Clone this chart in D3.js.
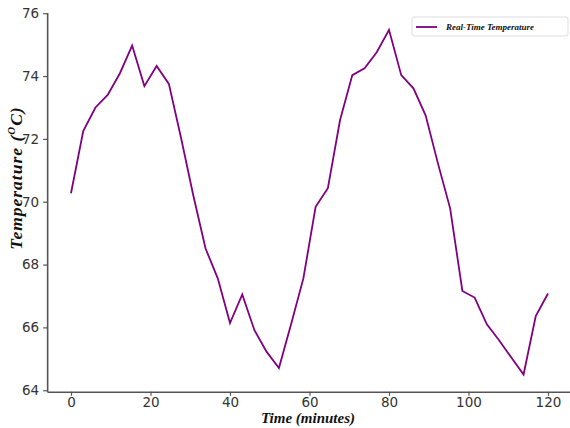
<html lang="en">
<head>
<script src="https://cdnjs.cloudflare.com/ajax/libs/d3/7.7.0/d3.min.js"></script>
<style>
html, body {
  margin: 0;
  padding: 0;
  background: #fff;
}
</style>
</head>
<body>
  <svg id="chart" width="570" height="428"></svg>
</body>
<script>
// time points (minutes) and readings
const times = [0, 3.08, 6.15, 9.23, 12.31, 15.38, 18.46, 21.54, 24.62, 27.69,
  30.77, 33.85, 36.92, 40, 43.08, 46.15, 49.23, 52.31, 55.38, 58.46,
  61.54, 64.62, 67.69, 70.77, 73.85, 76.92, 80, 83.08, 86.15, 89.23,
  92.31, 95.38, 98.46, 101.54, 104.62, 107.69, 110.77, 113.85, 116.92, 120];
const temps = [70.27, 72.25, 73.0, 73.4, 74.09, 74.97, 73.68, 74.32, 73.75, 72.03,
  70.2, 68.51, 67.56, 66.14, 67.05, 65.91, 65.22, 64.71, 66.11, 67.56,
  69.84, 70.43, 72.6, 74.03, 74.25, 74.76, 75.47, 74.03, 73.61, 72.74,
  71.22, 69.79, 67.16, 66.95, 66.1, 65.59, 65.04, 64.5, 66.36, 67.08];
const xTicks = [0, 20, 40, 60, 80, 100, 120];
const yTicks = [64, 66, 68, 70, 72, 74, 76];
const seriesName = 'Real-Time Temperature';

const svg = d3.select('#chart');

const x = d3.scaleLinear().domain([-6, 126]).range([47.15, 571.85]);
const y = d3.scaleLinear().domain([63.95, 76.02]).range([391.8, 12.6]);

const axisColor = '#555';
const tickTextColor = '#333';
const serif = '"Liberation Serif", "Times New Roman", serif';

// x axis
const gx = svg.append('g')
  .attr('transform', `translate(0, ${y(63.95)})`)
  .call(d3.axisBottom(x).tickValues(xTicks).tickSize(4).tickPadding(2).tickSizeOuter(0));
// y axis
const gy = svg.append('g')
  .attr('transform', `translate(${x(-6)}, 0)`)
  .call(d3.axisLeft(y).tickValues(yTicks).tickSize(4).tickPadding(4).tickSizeOuter(0));

[gx, gy].forEach(g => {
  g.select('.domain').attr('stroke', axisColor).attr('stroke-width', 1.6);
  g.selectAll('.tick line').attr('stroke', axisColor).attr('stroke-width', 1.2);
  g.selectAll('.tick text')
    .attr('fill', tickTextColor)
    .style('font-family', '"DejaVu Sans", sans-serif')
    .style('font-size', '13.5px');
});

// data line
const line = d3.line()
  .x((d, i) => x(times[i]))
  .y(d => y(d));

svg.append('path')
  .datum(temps)
  .attr('fill', 'none')
  .attr('stroke', '#800080')
  .attr('stroke-width', 1.8)
  .attr('d', line);

// axis titles
svg.append('text')
  .attr('x', 308)
  .attr('y', 423)
  .attr('text-anchor', 'middle')
  .style('font-family', serif)
  .style('font-weight', 'bold')
  .style('font-style', 'italic')
  .style('font-size', '15px')
  .attr('fill', '#111')
  .text('Time (minutes)');

const yt = svg.append('text')
  .attr('transform', 'translate(22, 178) rotate(-90)')
  .attr('text-anchor', 'middle')
  .style('font-family', serif)
  .style('font-weight', 'bold')
  .style('font-style', 'italic')
  .style('font-size', '17.5px')
  .style('letter-spacing', '1px')
  .attr('fill', '#111');
yt.append('tspan').text('Temperature (');
yt.append('tspan').attr('dy', -7).style('font-size', '11px').text('O');
yt.append('tspan').attr('dy', 7).text('C)');

// legend
const lg = svg.append('g').attr('transform', 'translate(412, 17)');
lg.append('rect')
  .attr('width', 156)
  .attr('height', 19)
  .attr('rx', 2)
  .attr('fill', '#fff')
  .attr('stroke', '#ddd');
lg.append('line')
  .attr('x1', 4).attr('x2', 25)
  .attr('y1', 10).attr('y2', 10)
  .attr('stroke', '#800080')
  .attr('stroke-width', 1.8);
lg.append('text')
  .attr('x', 34)
  .attr('y', 13)
  .style('font-family', serif)
  .style('font-weight', 'bold')
  .style('font-style', 'italic')
  .style('font-size', '9px')
  .attr('fill', '#111')
  .text(seriesName);
</script>
</html>
